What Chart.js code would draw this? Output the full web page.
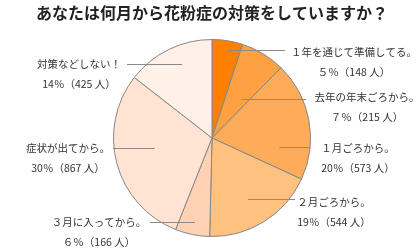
<!DOCTYPE html>
<html>
<head>
<meta charset="utf-8">
<script src="https://cdn.jsdelivr.net/npm/chart.js@4.4.0/dist/chart.umd.min.js"></script>
<style>
  html, body { margin: 0; padding: 0; background: #fff; }
  #wrap { width: 420px; height: 250px; }
</style>
</head>
<body>
<div id="wrap"><canvas id="pie" width="420" height="250"></canvas></div>
<script>
// Data
const chartTitle = 'あなたは何月から花粉症の対策をしていますか？';
const categories = ['１年を通じて準備してる。', '去年の年末ごろから。', '１月ごろから。', '２月ごろから。', '３月に入ってから。', '症状が出てから。', '対策などしない！'];
const counts = [148, 215, 573, 544, 166, 867, 425];
const percents = ['５', '７', '20', '19', '６', '30', '14'];

// Styles
const sliceColors = ['#FF8000', '#FFA142', '#FFAC5A', '#FFC17F', '#FFD1B5', '#FFE3D3', '#FFF0E8'];

// Label layout: [label centre x, leader end x, angle nudge (deg), radius fraction, text dy]
const labelLayout = [
  [354, 285, 1, 0.91, 2],
  [367, 306, 6, 0.50, -2],
  [358, 310, 18, 0.69, 1],
  [334, 295, 1.5, 0.72, 3],
  [99, 150, 0, 0.87, 0],
  [68, 113, 5.5, 0.59, 0],
  [79, 127, 4, 0.81, 0]
];

const labelPlugin = {
  id: 'labels',
  afterDatasetsDraw(chart) {
    const ctx = chart.ctx;
    const meta = chart.getDatasetMeta(0);
    ctx.save();
    // title
    ctx.fillStyle = '#222';
    ctx.font = 'bold 16px "Noto Sans CJK JP"';
    ctx.textAlign = 'center';
    ctx.textBaseline = 'middle';
    ctx.fillText(chartTitle, 212, 13);

    ctx.font = '10.5px "Noto Sans CJK JP"';
    meta.data.forEach((arc, i) => {
      const [lx, endX, nudge, k, dy] = labelLayout[i];
      const mid = (arc.startAngle + arc.endAngle) / 2 + nudge * Math.PI / 180;
      const sx = arc.x + Math.cos(mid) * arc.outerRadius * k;
      const sy = Math.round(arc.y + Math.sin(mid) * arc.outerRadius * k) + 0.5;
      ctx.strokeStyle = '#8a8a8a';
      ctx.lineWidth = 1;
      ctx.beginPath();
      ctx.moveTo(sx, sy);
      ctx.lineTo(endX, sy);
      ctx.stroke();
      ctx.fillStyle = '#333';
      ctx.fillText(categories[i], lx, sy + dy);
      ctx.fillText(percents[i] + '％（' + counts[i] + ' 人）', lx, sy + dy + 20);
    });
    ctx.restore();
  }
};

new Chart(document.getElementById('pie'), {
  type: 'pie',
  data: {
    labels: categories,
    datasets: [{
      data: counts,
      backgroundColor: sliceColors,
      borderColor: '#868686',
      borderWidth: 1,
      hoverOffset: 0
    }]
  },
  options: {
    responsive: false,
    animation: false,
    devicePixelRatio: 1,
    layout: { padding: { top: 39, bottom: 13, left: 4, right: 0 } },
    plugins: {
      legend: { display: false },
      tooltip: { enabled: false }
    }
  },
  plugins: [labelPlugin]
});
</script>
</body>
</html>
